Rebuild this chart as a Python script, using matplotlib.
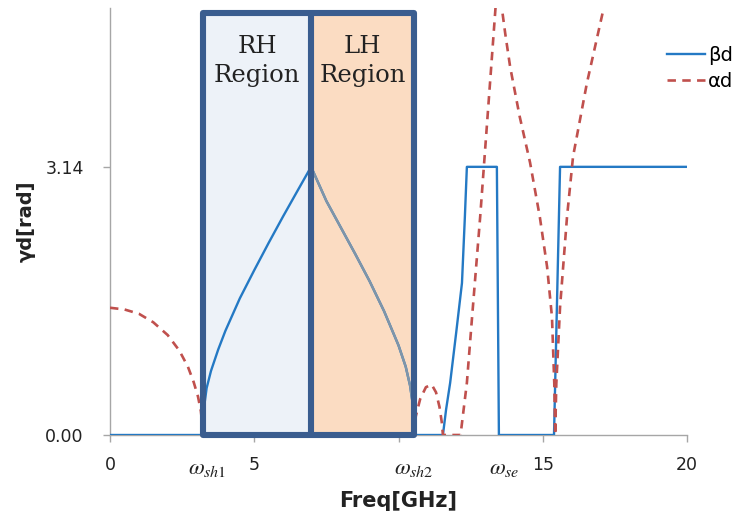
import matplotlib
matplotlib.use("Agg")
import matplotlib.pyplot as plt
from matplotlib.patches import Rectangle
from matplotlib.transforms import blended_transform_factory

# ---------------- data ----------------
beta_freq = [0, 3.22, 3.25, 3.35, 3.50, 3.75, 4.00, 4.50, 5.00, 5.50, 6.00,
             6.50, 6.97,
             7.50, 8.00, 8.50, 9.00, 9.50, 10.00, 10.25, 10.40, 10.50, 10.54,
             11.54, 11.65, 11.79, 12.00, 12.20, 12.30, 12.37, 13.41, 13.48,
             15.39, 15.60, 20.0]
beta_val = [0, 0, 0.30, 0.55, 0.75, 1.00, 1.22, 1.60, 1.93, 2.25, 2.56,
            2.86, 3.14,
            2.74, 2.43, 2.12, 1.80, 1.45, 1.05, 0.80, 0.58, 0.35, 0,
            0, 0.30, 0.61, 1.20, 1.78, 2.55, 3.14, 3.14, 0,
            0, 3.14, 3.14]

# LH-branch (drawn in grey)
lh_freq = [6.97, 7.50, 8.00, 8.50, 9.00, 9.50, 10.00, 10.25, 10.40, 10.50, 10.54]
lh_val = [3.14, 2.74, 2.43, 2.12, 1.80, 1.45, 1.05, 0.80, 0.58, 0.35, 0]

alpha_freq = [0, 0.50, 1.00, 1.50, 2.00, 2.40, 2.70, 2.90, 3.05, 3.15, 3.20,
              3.22, 10.54, 10.60, 10.75, 10.95, 11.15, 11.30, 11.42, 11.50,
              11.54, 12.15, 12.37, 12.55, 12.83, 13.20,
              13.44, 13.70, 13.87, 14.20, 14.56, 14.90, 15.15, 15.32, 15.40,
              15.43, 15.47, 15.60, 15.84, 16.05, 16.53, 17.10, 17.15]
alpha_val = [1.49, 1.47, 1.42, 1.32, 1.17, 0.99, 0.80, 0.62, 0.45, 0.28, 0.12,
             0, 0, 0.22, 0.42, 0.56, 0.59, 0.50, 0.33, 0.15,
             0, 0, 0.61, 1.38, 2.55, 4.25,
             5.36, 4.70, 4.31, 3.73, 3.19, 2.55, 1.97, 1.38, 0.60,
             0, 0.60, 1.50, 2.55, 3.26, 4.12, 4.98, 5.05]

regions = [3.22, 6.97, 10.54]          # omega_sh1, centre, omega_sh2
region_top = 4.94
region_labels = ["RH\nRegion", "LH\nRegion"]

xticks = [0, 5, 10, 15, 20]
xticklabels = ["0", "5", "", "15", "20"]
yticks = [0.0, 3.14]
yticklabels = ["0.00", "3.14"]

omega_pos = [3.36, 10.54, 13.66]
omega_labels = [r"$\omega_{sh1}$", r"$\omega_{sh2}$", r"$\omega_{se}$"]

# ---------------- style ----------------
BLUE = "#2479C4"
RED = "#C0504D"
GREY = "#8095A8"
EDGE = "#3A5D8F"
AXIS = "#A6A6A6"

W, H = 738, 523
fig = plt.figure(figsize=(W / 100, H / 100), dpi=100)
ax = fig.add_axes([110 / W, 1 - 435 / H, (687 - 110) / W, (435 - 8) / H])

ax.set_xlim(0, 20)
ax.set_ylim(0, 5)

# region fills
ax.add_patch(Rectangle((regions[0], 0), regions[1] - regions[0], region_top,
                       facecolor="#EDF2F8", edgecolor="none", zorder=1))
ax.add_patch(Rectangle((regions[1], 0), regions[2] - regions[1], region_top,
                       facecolor="#FBDCC2", edgecolor="none", zorder=1))

# curves
ax.plot(beta_freq, beta_val, color=BLUE, lw=1.7, zorder=3, label="βd",
        solid_joinstyle="round")
ax.plot(lh_freq, lh_val, color=GREY, lw=1.7, zorder=3.5,
        solid_joinstyle="round")
ax.plot(alpha_freq, alpha_val, color=RED, lw=1.9, zorder=4, label="αd",
        linestyle=(0, (3.2, 2.4)))

# region box edges (on top)
lw_box = 4.4
ax.add_patch(Rectangle((regions[0], 0), regions[2] - regions[0], region_top,
                       facecolor="none", edgecolor=EDGE, lw=lw_box,
                       joinstyle="round", zorder=5, clip_on=False))
ax.plot([regions[1], regions[1]], [0, region_top], color=EDGE, lw=lw_box,
        zorder=5, clip_on=False, solid_capstyle="butt")

for i, txt in enumerate(region_labels):
    xc = (regions[i] + regions[i + 1]) / 2
    ax.text(xc, 4.38, txt, ha="center", va="center", family="DejaVu Serif",
            fontsize=17.5, color="#222222", linespacing=1.3, zorder=6)

# axes styling
for s in ["top", "right"]:
    ax.spines[s].set_visible(False)
for s in ["left", "bottom"]:
    ax.spines[s].set_color(AXIS)
    ax.spines[s].set_linewidth(1.0)

ax.set_xticks(xticks)
ax.set_xticklabels(xticklabels)
ax.set_yticks(yticks)
ax.set_yticklabels(yticklabels)
ax.tick_params(axis="both", direction="out", length=5, width=1, color=AXIS,
               labelsize=12.5, labelcolor="#222222")
ax.tick_params(axis="x", pad=10)
ax.tick_params(axis="y", pad=14)

trans = blended_transform_factory(ax.transData, ax.transAxes)
for xp, lab in zip(omega_pos, omega_labels):
    ax.text(xp, -0.075, lab, transform=trans, ha="center", va="center",
            fontsize=16.5, color="#222222", math_fontfamily="stix")

ax.set_xlabel("Freq[GHz]", fontsize=15, fontweight="bold", labelpad=12.5,
              color="#222222")
ax.set_ylabel("γd[rad]", fontsize=14, fontweight="bold", labelpad=6.5,
              color="#222222")

leg = ax.legend(loc="upper left", bbox_to_anchor=(663 / W, 1 - 42 / H),
                bbox_transform=fig.transFigure, frameon=False, fontsize=14,
                handlelength=1.95, handletextpad=0.15, labelspacing=0.35,
                borderpad=0.2, borderaxespad=0)

fig.savefig("out.png", dpi=100)
